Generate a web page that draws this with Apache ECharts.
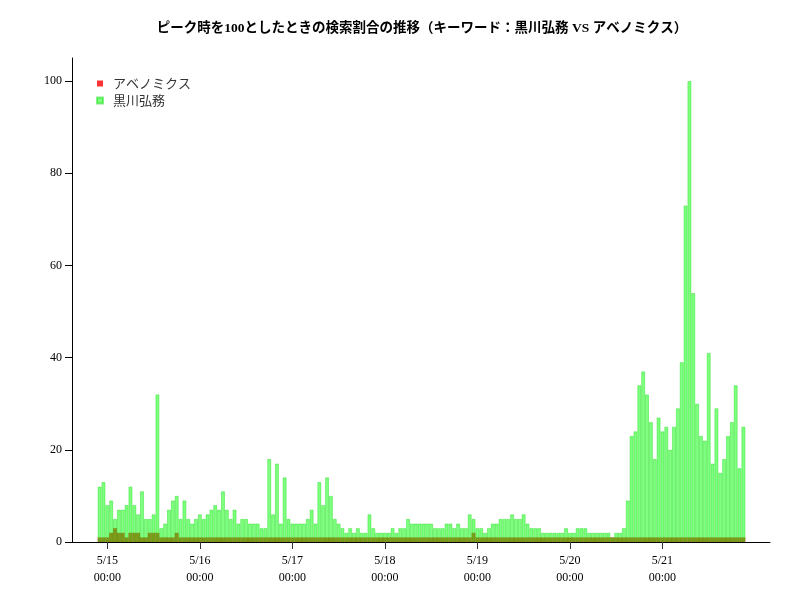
<!DOCTYPE html>
<html>
<head>
<meta charset="utf-8">
<script src="https://cdn.jsdelivr.net/npm/echarts@6/dist/echarts.min.js"></script>
<style>
  html, body { margin: 0; padding: 0; background: #fff; }
  #chart { width: 800px; height: 600px; }
</style>
</head>
<body>
<div id="chart"></div>
<script>
// Hourly search share (peak = 100), first bar at 5/14 22:00
const firstHour = -2; // hours relative to 5/15 00:00

const kurokawa = [
  12, 13, 8, 9, 5, 7, 7, 8, 12, 8, 6, 11, 5, 5, 6, 32, 3, 4, 7, 9, 10, 5, 9, 5,
  4, 5, 6, 5, 6, 7, 8, 7, 11, 7, 5, 7, 4, 5, 5, 4, 4, 4, 3, 3, 18, 6, 17, 4,
  14, 5, 4, 4, 4, 4, 5, 7, 4, 13, 8, 14, 10, 5, 4, 3, 2, 3, 2, 3, 2, 2, 6, 3,
  2, 2, 2, 2, 3, 2, 3, 3, 5, 4, 4, 4, 4, 4, 4, 3, 3, 3, 4, 4, 3, 4, 3, 3,
  6, 5, 3, 3, 2, 3, 4, 4, 5, 5, 5, 6, 5, 5, 6, 4, 3, 3, 3, 2, 2, 2, 2, 2,
  2, 3, 2, 2, 3, 3, 3, 2, 2, 2, 2, 2, 2, 1, 2, 2, 3, 9, 23, 24, 34, 37, 32, 26,
  18, 27, 24, 25, 20, 25, 29, 39, 73, 100, 54, 30, 23, 22, 41, 17, 29, 15, 18, 23,
  26, 34, 16, 25
];

const abenomics = [
  1, 1, 1, 2, 3, 2, 2, 1, 2, 2, 2, 1, 1, 2, 2, 2, 1, 1, 1, 1, 2, 1, 1, 1,
  1, 1, 1, 1, 1, 1, 1, 1, 1, 1, 1, 1, 1, 1, 1, 1, 1, 1, 1, 1, 1, 1, 1, 1,
  1, 1, 1, 1, 1, 1, 1, 1, 1, 1, 1, 1, 1, 1, 1, 1, 1, 1, 1, 1, 1, 1, 1, 1,
  1, 1, 1, 1, 1, 1, 1, 1, 1, 1, 1, 1, 1, 1, 1, 1, 1, 1, 1, 1, 1, 1, 1, 1,
  1, 2, 1, 1, 1, 1, 1, 1, 1, 1, 1, 1, 1, 1, 1, 1, 1, 1, 1, 1, 1, 1, 1, 1,
  1, 1, 1, 1, 1, 1, 1, 1, 1, 1, 1, 1, 1, 1, 1, 1, 1, 1, 1, 1, 1, 1, 1, 1,
  1, 1, 1, 1, 1, 1, 1, 1, 1, 1, 1, 1, 1, 1, 1, 1, 1, 1, 1, 1, 1, 1, 1, 1
];

const seriesNames = ['アベノミクス', '黒川弘務'];
const xTickHours = [0, 24, 48, 72, 96, 120, 144];
const xTickLabels = ['5/15\n00:00', '5/16\n00:00', '5/17\n00:00', '5/18\n00:00', '5/19\n00:00', '5/20\n00:00', '5/21\n00:00'];
const yTicks = [0, 20, 40, 60, 80, 100];

const serif = '"Liberation Serif", "DejaVu Serif", serif';
const jp = '"Liberation Serif", "Noto Sans CJK JP", sans-serif';

const xMin = -9.16, xMax = 171.9;
const gridLeft = 72, gridRight = 30;
const hourPx = (800 - gridLeft - gridRight) / (xMax - xMin);

const toPoints = arr => arr.map((v, i) => [firstHour + i, v]);

const chart = echarts.init(document.getElementById('chart'), null, { renderer: 'canvas' });

chart.setOption({
  backgroundColor: '#ffffff',
  animation: false,
  title: {
    text: 'ピーク時を100としたときの検索割合の推移（キーワード：黒川弘務 VS アベノミクス）',
    left: 417,
    textAlign: 'center',
    top: 17,
    textStyle: { fontFamily: jp, fontSize: 13.5, fontWeight: 'bold', color: '#000' }
  },
  legend: {
    orient: 'vertical',
    left: 96,
    top: 77,
    padding: 0,
    itemWidth: 6,
    itemHeight: 6,
    itemGap: 4,
    icon: 'rect',
    data: seriesNames,
    textStyle: {
      fontFamily: '"Noto Sans CJK JP", sans-serif', fontSize: 13, color: '#333',
      padding: [0, 0, 0, 5]
    }
  },
  grid: { left: gridLeft, right: gridRight, top: 58, bottom: 58, containLabel: false },
  xAxis: {
    type: 'value',
    min: xMin,
    max: xMax,
    splitLine: { show: false },
    axisLine: { show: true, onZero: false, lineStyle: { color: '#000', width: 1 } },
    axisTick: {
      show: true, length: 7, inside: false,
      customValues: xTickHours,
      lineStyle: { color: '#333', width: 1 }
    },
    axisLabel: {
      customValues: xTickHours,
      margin: 10,
      lineHeight: 17,
      fontFamily: serif, fontSize: 12, color: '#000',
      formatter: v => xTickLabels[xTickHours.indexOf(v)] || ''
    }
  },
  yAxis: {
    type: 'value',
    min: 0,
    max: 105,
    splitLine: { show: false },
    axisLine: { show: true, onZero: false, lineStyle: { color: '#000', width: 1 } },
    axisTick: {
      show: true, length: 7, inside: false,
      customValues: yTicks,
      lineStyle: { color: '#000', width: 1 }
    },
    axisLabel: {
      customValues: yTicks,
      margin: 10,
      fontFamily: serif, fontSize: 12, color: '#000'
    }
  },
  series: [
    {
      name: seriesNames[0],
      type: 'bar',
      data: toPoints(abenomics),
      barWidth: hourPx,
      barGap: '-100%',
      itemStyle: { color: 'rgba(255,0,0,0.8)', borderWidth: 0 }
    },
    {
      name: seriesNames[1],
      type: 'bar',
      data: toPoints(kurokawa),
      barWidth: hourPx,
      barGap: '-100%',
      itemStyle: { color: 'rgba(0,255,0,0.5)', borderColor: 'rgba(0,215,0,0.45)', borderWidth: 0.8 }
    }
  ]
});
</script>
</body>
</html>
